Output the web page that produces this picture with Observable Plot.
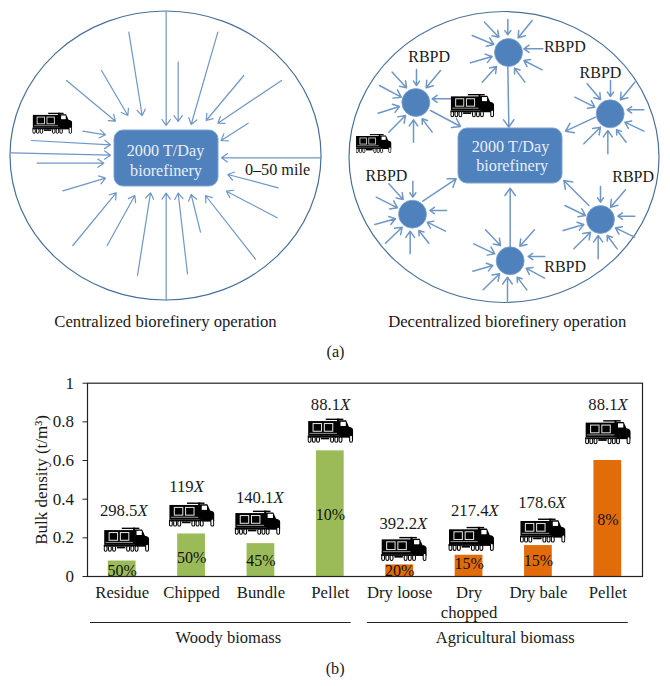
<!DOCTYPE html>
<html>
<head>
<meta charset="utf-8">
<script src="https://cdn.jsdelivr.net/npm/d3@7"></script>
<script src="https://cdn.jsdelivr.net/npm/@observablehq/plot@0.6"></script>
<style>
html,body{margin:0;padding:0;background:#fff}
svg{display:block}
</style>
</head>
<body>
<div id="chart"></div>
<script>
// ---- panel (b) data ----
const categories = ["Residue","Chipped","Bundle","Pellet","Dry loose","Dry\nchopped","Dry bale","Pellet"];
const bulkDensity = [0.08,0.22,0.17,0.65,0.06,0.11,0.16,0.60];
const moisture = ["50%","50%","45%","10%","20%","15%","15%","8%"];
const moistureY = [0.03,0.097,0.083,0.32,0.028,0.066,0.083,0.293];
const multiplier = ["298.5","119","140.1","88.1","392.2","217.4","178.6","88.1"];
const multiplierX = [0.22,1.03,2.18,3.14,4.25,5.28,6.25,7.14];
const multiplierY = [0.341,0.466,0.41,0.888,0.276,0.341,0.384,0.89];
const truckX = [0.06,0,-0.05,0,0.06,0.03,0.06,0];
const truckY = [0.191,0.321,0.279,0.755,0.143,0.195,0.238,0.747];
const groupNames = ["Woody biomass","Agricultural biomass"];
const groupStart = [-0.457,3.535];
const groupEnd = [3.30,7.295];
const groupCenter = [1.53,5.52];
const yTicks = [0,0.2,0.4,0.6,0.8,1];
const woodyCount = 4;

// ---- panel (a) data, [x1,y1,x2,y2] read at 3x scale ----
const centralArrows = [
[497,33,497,375],[385,95,425,345],[652,95,572,372],[533,185,533,363],[303,210,382,345],[198,240,345,362],
[730,225,617,360],[843,240,652,368],[743,368,662,420],[962,472,663,472],[833,562,682,522],[830,652,678,572],
[765,776,615,585],[600,695,572,582],[561,820,533,578],[497,900,497,578],[411,825,450,577],[320,735,403,585],
[217,735,347,577],[187,571,315,533],[110,488,310,488],[33,457,330,464],[93,420,330,433],[247,392,315,403]];
const decentralArrows = [
[517,57,517,103],[447,65,490,110],[590,60,548,112],[410,105,475,132],[622,145,565,145],[405,187,470,168],
[620,208,565,180],[440,245,483,198],[568,245,537,203],[517,198,520,380],
[243,207,243,255],[170,215,213,262],[315,210,272,262],[132,255,197,290],[345,295,290,295],[128,338,192,318],
[160,395,210,345],[234,425,234,358],[290,395,260,355],[285,330,375,378],
[825,240,825,288],[755,250,795,297],[898,245,855,298],[718,290,778,320],[925,328,875,328],[925,392,868,365],
[745,430,795,380],[817,460,817,390],[872,425,843,388],[780,350,690,392],
[232,542,232,590],[160,550,203,597],[122,590,186,622],[333,630,283,630],[118,672,180,655],[330,692,275,665],
[150,728,200,680],[224,760,224,692],[280,728,250,690],[262,602,362,535],
[795,558,795,605],[870,568,825,620],[688,615,750,645],[898,647,847,647],[683,690,745,672],
[897,710,840,682],[715,745,765,695],[788,775,788,705],[845,745,815,705],[760,615,685,540],
[524,740,524,563],[450,688,495,735],[597,688,553,737],[415,730,478,760],[628,768,578,768],[412,812,472,795],
[627,833,572,803],[443,868,492,820],[516,905,516,830],[574,868,545,830]];
const hubs = [[519,156],[241,306],[824,340],[231,641],[795,657],[524,781]];
const hubLabels = [[688,140],[281,168],[795,216],[153,526],[893,530],[689,800]];
const rings = [[165.5,155.5,155.5,144.5],[504,157,155,145.5]];
const boxes = [[114,130,218,186],[458,128,562,183]];
const boxTexts = [["2000 T/Day",165,150],["biorefinery",165.5,170],["2000 T/Day",510,146.7],["biorefinery",511.7,165.5]];
const captionTexts = [
 ["0–50 mile",277,169,16.2],
 ["Centralized biorefinery operation",165,320.7,16.7],
 ["Decentralized biorefinery operation",506.7,320.7,16.7],
 ["(a)",335,351,16.2]];
const diagramTrucks = [[51.7,122.7,40,23],[471.7,105,44,25],[373,143,36,21]];

const BLUE="#4F81BD", ARROW="#6F97C6", RING="#4A7099", INK="#1a1a1a", SERIF="Liberation Serif";
const truckSvg = `<svg xmlns="http://www.w3.org/2000/svg" viewBox="0 0 130 74">
<g fill="#000"><rect x="2" y="10" width="90" height="42"/><rect x="52" y="3" width="50" height="4"/><rect x="84" y="3" width="6" height="10"/>
<path d="M90 8H110L118 26Q130 28 130 36V56H90Z"/><rect x="0" y="52" width="128" height="5"/><rect x="38" y="57" width="24" height="5"/></g>
<rect x="94" y="12" width="15" height="12" fill="#fff"/>
<rect x="16" y="17" width="24" height="22" fill="#000" stroke="#ddd" stroke-width="3"/>
<rect x="48" y="17" width="24" height="22" fill="#000" stroke="#ddd" stroke-width="3"/>
<path d="M6 45H84" stroke="#ddd" stroke-width="2"/>
<g fill="#fff" stroke="#000" stroke-width="3"><rect x="2" y="55" width="8" height="15" rx="4"/><rect x="14" y="55" width="8" height="15" rx="4"/><rect x="26" y="55" width="8" height="15" rx="4"/>
<rect x="66" y="55" width="8" height="15" rx="4"/><rect x="78" y="55" width="8" height="15" rx="4"/><rect x="90" y="55" width="8" height="15" rx="4"/><rect x="120" y="50" width="8" height="20" rx="4"/></g>
</svg>`;
const truckSrc = "data:image/svg+xml," + encodeURIComponent(truckSvg);

const s3 = v => v/3;
const rowsC = centralArrows.map(a=>({x1:s3(a[0]),y1:s3(a[1]),x2:s3(a[2]),y2:s3(a[3])}));
const off = 335;
const rowsD = decentralArrows.map(a=>({x1:off+s3(a[0]),y1:s3(a[1]),x2:off+s3(a[2]),y2:s3(a[3])}));

// custom mark: an ellipse placed with the plot's own scales
function ringsMark(data){
  return (index, {x, y}) => {
    const g = d3.create("svg:g").attr("fill","none").attr("stroke",RING).attr("stroke-width",1.2);
    for (const [cx,cy,rx,ry] of data){
      g.append("ellipse").attr("cx",x(cx)).attr("cy",y(cy))
       .attr("rx",Math.abs(x(cx+rx)-x(cx))).attr("ry",Math.abs(y(cy+ry)-y(cy)));
    }
    return g.node();
  };
}

const panelA = Plot.plot({
  width:670,height:360,margin:0,
  x:{domain:[0,670],axis:null},
  y:{domain:[360,0],axis:null},
  style:{fontFamily:SERIF,background:"#fff"},
  marks:[
    ringsMark(rings),
    Plot.arrow(rowsC,{x1:"x1",y1:"y1",x2:"x2",y2:"y2",stroke:ARROW,strokeWidth:1.2,headLength:9,headAngle:70,bend:0}),
    Plot.arrow(rowsD,{x1:"x1",y1:"y1",x2:"x2",y2:"y2",stroke:ARROW,strokeWidth:1.5,headLength:9,headAngle:70,bend:0}),
    Plot.rect(boxes,{x1:d=>d[0],y1:d=>d[1],x2:d=>d[2],y2:d=>d[3],fill:BLUE,stroke:"#7fa3cf",strokeWidth:1,rx:9}),
    Plot.dot(hubs,{x:d=>off+s3(d[0]),y:d=>s3(d[1]),r:14,fill:BLUE,stroke:"#7fa3cf",strokeWidth:0.8}),
    Plot.text(hubLabels,{x:d=>off+s3(d[0]),y:d=>s3(d[1]),text:()=>"RBPD",fontSize:16,fill:INK}),
    Plot.text(boxTexts,{x:d=>d[1],y:d=>d[2],text:d=>d[0],fill:"#e8eef7",fontSize:16.2}),
    Plot.text(captionTexts.slice(0,1),{x:d=>d[1],y:d=>d[2],text:d=>d[0],fill:INK,fontSize:16.2}),
    Plot.text(captionTexts.slice(1,3),{x:d=>d[1],y:d=>d[2],text:d=>d[0],fill:INK,fontSize:16.7}),
    Plot.text(captionTexts.slice(3),{x:d=>d[1],y:d=>d[2],text:d=>d[0],fill:INK,fontSize:16.2}),
    Plot.image(diagramTrucks,{x:d=>d[0],y:d=>d[1],width:d=>d[2],height:d=>d[3],src:()=>truckSrc})
  ]
});

const rows = categories.map((c,i)=>({i,c,v:bulkDensity[i],m:moisture[i],my:moistureY[i],n:multiplier[i],nx:multiplierX[i],ny:multiplierY[i],tx:i+truckX[i],ty:truckY[i]}));
const groups = groupNames.map((name,i)=>({name,x1:groupStart[i],x2:groupEnd[i],xc:groupCenter[i]}));

const panelB = Plot.plot({
  width:670,height:326,marginLeft:87,marginRight:28,marginTop:22.7,marginBottom:110,
  x:{domain:[-0.5,7.5],axis:null},
  y:{domain:[0,1],axis:null},
  style:{fontFamily:SERIF,fontSize:"17px",background:"#fff",color:INK},
  marks:[
    Plot.rect(rows,{x1:d=>d.i-0.2,x2:d=>d.i+0.2,y1:0,y2:"v",fill:d=>d.i<woodyCount?"#9BBB59":"#E36C0A"}),
    Plot.frame({stroke:"#222",strokeWidth:1.2}),
    Plot.axisY({anchor:"left",ticks:yTicks,tickFormat:d=>String(d),tickSize:4.5,tickPadding:9,fontSize:17,
      label:"Bulk density (t/m³)",labelAnchor:"center",labelArrow:"none",labelOffset:53,stroke:"#222"}),
    Plot.axisX({anchor:"bottom",ticks:d3.range(categories.length),tickFormat:i=>categories[i],tickSize:0,tickPadding:7,fontSize:16.7,lineHeight:1.2,label:null}),
    Plot.text(rows,{x:"i",y:"my",text:"m",fontSize:16,fill:"#111"}),
    Plot.image(rows,{x:"tx",y:"ty",width:46,height:26,src:()=>truckSrc}),
    Plot.text(rows,{x:"nx",y:"ny",text:"n",textAnchor:"end",fontSize:16.7,fill:INK}),
    Plot.text(rows,{x:"nx",y:"ny",text:()=>"X",textAnchor:"start",fontSize:16.7,fontStyle:"italic",fill:INK}),
    Plot.ruleY(groups,{y:()=>-0.238,x1:"x1",x2:"x2",stroke:"#222",strokeWidth:1}),
    Plot.text(groups,{x:"xc",y:()=>-0.316,text:"name",fontSize:16.5,fill:INK}),
    Plot.text(["(b)"],{x:()=>3.07,y:()=>-0.476,text:d=>d,fontSize:16.2,fill:INK})
  ]
});

document.getElementById("chart").append(panelA, panelB);
</script>
</body>
</html>
